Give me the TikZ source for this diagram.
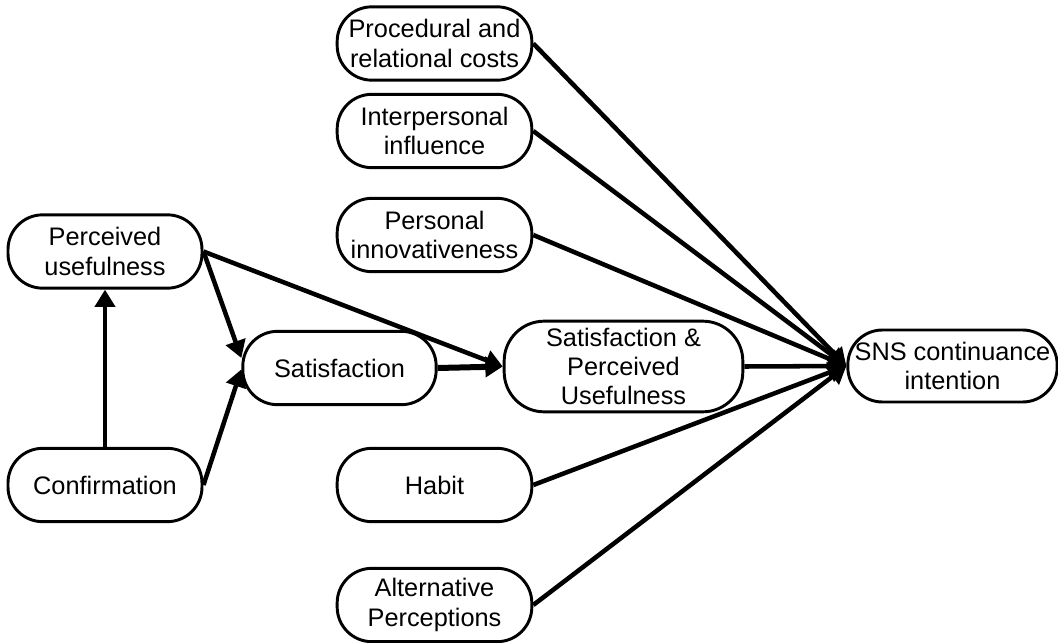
\documentclass[tikz,border=0pt]{standalone}
\usepackage{fontspec}
\setmainfont{Liberation Sans}
\usetikzlibrary{arrows.meta,calc}
\begin{document}
\begin{tikzpicture}[x=0.75pt,y=-0.75pt,
  box/.style={draw=black,line width=2.2pt,rounded corners=26pt,align=center,inner sep=0pt,
    font=\fontsize{19}{22}\selectfont},
  arr/.style={line width=3.4pt,-{Triangle[length=13pt,width=15pt]}}]
\useasboundingbox (0,0) rectangle (1058,643);
\node[box,minimum width=145.5pt,minimum height=55pt] (pu) at (105,251.5) {Perceived\\usefulness};
\node[box,minimum width=145.5pt,minimum height=55pt] (conf) at (105,485) {Confirmation};
\node[box,minimum width=146pt,minimum height=55pt] (proc) at (434.5,43.5) {Procedural and\\relational costs};
\node[box,minimum width=146pt,minimum height=55pt] (inter) at (434.5,131) {Interpersonal\\influence};
\node[box,minimum width=146pt,minimum height=55pt] (pers) at (434.5,235) {Personal\\innovativeness};
\node[box,minimum width=146pt,minimum height=55pt] (habit) at (434.5,485) {Habit};
\node[box,minimum width=146pt,minimum height=55pt] (alt) at (434.5,605) {Alternative\\Perceptions};
\node[box,minimum width=145pt,minimum height=55pt] (sat) at (339.5,368) {Satisfaction};
\node[box,minimum width=179pt,minimum height=68pt,rounded corners=30pt] (satpu) at (623.5,366.5) {Satisfaction \&\\Perceived\\Usefulness};
\node[box,minimum width=157pt,minimum height=54pt] (sns) at (952.5,366) {SNS continuance\\intention};
\draw[arr] (conf.north) -- (pu.south);
\draw[arr] (pu.east) -- ([yshift=7.5pt]sat.west);
\draw[arr] (conf.east) -- ([yshift=-1pt]sat.west);
\draw[arr] (pu.east) -- (satpu.west);
\draw[arr,line width=4.5pt] (sat.east) -- (satpu.west);
\draw[arr] (proc.east) -- (sns.west);
\draw[arr] (inter.east) -- (sns.west);
\draw[arr] (pers.east) -- (sns.west);
\draw[arr] (satpu.east) -- (sns.west);
\draw[arr] (habit.east) -- (sns.west);
\draw[arr] (alt.east) -- (sns.west);
\end{tikzpicture}
\end{document}
